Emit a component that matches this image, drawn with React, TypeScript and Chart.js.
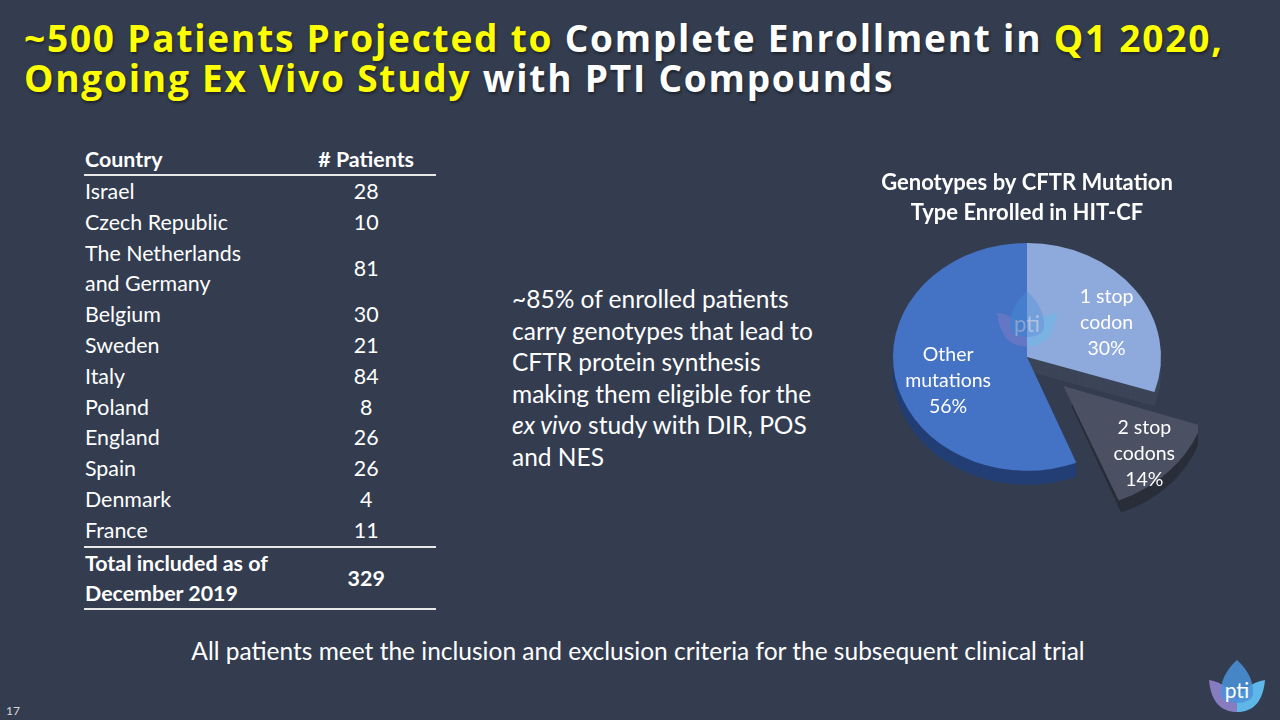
import React, { useEffect, useRef } from "react";
import { Chart, registerables } from "chart.js";

Chart.register(...registerables);

// ---- data ----
const countries = [
  "Israel",
  "Czech Republic",
  "The Netherlands\nand Germany",
  "Belgium",
  "Sweden",
  "Italy",
  "Poland",
  "England",
  "Spain",
  "Denmark",
  "France",
];
const patients = [28, 10, 81, 30, 21, 84, 8, 26, 26, 4, 11];
const totalLabel = "Total included as of\nDecember 2019";
const totalPatients = 329;

const pieTitle = ["Genotypes by CFTR Mutation", "Type Enrolled in HIT-CF"];
const pieLabels = [["1 stop", "codon"], ["2 stop", "codons"], ["Other", "mutations"]];
const pieValues = [30, 14, 56];
const pieColors = ["#8EA9DB", "#4B5163", "#4472C4"];
const pieSideColors = ["#3C4558", "#2A2F3A", "#233F75"];
const pieOffsets = [0, 200, 0];

const FONT = "Lato, 'Open Sans', sans-serif";
const TITLE_FONT = "'Open Sans', Lato, sans-serif";
const BG = "#333D4F";
const SQUASH = 0.85;
const DEPTH = 14;

function arcGeom(arc: any) {
  const p = arc.getProps(["x", "y", "startAngle", "endAngle", "outerRadius", "circumference"]);
  const offset = (arc.options.offset || 0) / 4;
  const half = (p.startAngle + p.endAngle) / 2;
  const fix = 1 - Math.sin(Math.min(Math.PI, p.circumference || 0));
  const t = offset * (1 + fix);
  return { ...p, half, ox: Math.cos(half) * t, oy: Math.sin(half) * t };
}

const pie3d = {
  id: "pie3d",
  beforeDatasetsDraw(chart: any) {
    const ctx = chart.ctx;
    const arcs = chart.getDatasetMeta(0).data;
    if (!arcs.length) return;
    const cx = arcs[0].x;
    const cy = arcs[0].y;
    ctx.save();
    ctx.translate(cx, cy);
    ctx.scale(1, SQUASH);
    ctx.translate(-cx, -cy);
    for (let d = DEPTH; d >= 1; d--) {
      arcs.forEach((arc: any, i: number) => {
        const g = arcGeom(arc);
        const x = g.x + g.ox;
        const y = g.y + g.oy + d / SQUASH;
        ctx.beginPath();
        ctx.moveTo(x, y);
        ctx.arc(x, y, g.outerRadius, g.startAngle, g.endAngle);
        ctx.closePath();
        ctx.fillStyle = pieSideColors[i];
        ctx.fill();
      });
    }
  },
  afterDatasetsDraw(chart: any) {
    const ctx = chart.ctx;
    ctx.restore();
    const arcs = chart.getDatasetMeta(0).data;
    const labels = chart.data.labels;
    const values = chart.data.datasets[0].data;
    ctx.save();
    ctx.fillStyle = "#FFFFFF";
    ctx.font = `19.5px ${FONT}`;
    ctx.textAlign = "center";
    ctx.textBaseline = "middle";
    arcs.forEach((arc: any, i: number) => {
      const g = arcGeom(arc);
      const r = g.outerRadius * 0.66;
      const x = g.x + g.ox + Math.cos(g.half) * r + 8;
      const y = g.y + (g.oy + Math.sin(g.half) * r) * SQUASH + 10;
      const lines = [...labels[i], `${values[i]}%`];
      const lh = 26;
      lines.forEach((ln: string, k: number) => {
        ctx.fillText(ln, x, y + (k - (lines.length - 1) / 2) * lh);
      });
    });
    ctx.restore();
  },
};

function PieChart() {
  const ref = useRef<HTMLCanvasElement | null>(null);
  useEffect(() => {
    if (!ref.current) return;
    const chart = new Chart(ref.current, {
      type: "pie",
      data: {
        labels: pieLabels as any,
        datasets: [
          {
            data: pieValues,
            backgroundColor: pieColors,
            borderWidth: 0,
            offset: pieOffsets,
            clip: false as any,
          } as any,
        ],
      },
      options: {
        responsive: false,
        animation: false,
        events: [],
        radius: 134,
        layout: { padding: { left: 0, right: 2, top: 0, bottom: 74 } },
        plugins: {
          legend: { display: false },
          tooltip: { enabled: false },
          title: {
            display: true,
            text: pieTitle,
            color: "#FFFFFF",
            font: { family: FONT, size: 22, weight: "bold", lineHeight: 1.36 },
            padding: { top: 8, bottom: 0 },
          },
        },
      } as any,
      plugins: [pie3d],
    });
    return () => chart.destroy();
  }, []);
  return (
    <canvas
      ref={ref}
      width={340}
      height={400}
      style={{ position: "absolute", left: 858, top: 160, width: 340, height: 400 }}
    />
  );
}

function Lotus({ left, top, size, opacity, textColor }: any) {
  return (
    <svg
      width={size}
      height={size * 0.95}
      viewBox="0 0 60 57"
      style={{ position: "absolute", left, top, opacity }}
    >
      <path d="M30 54 C14 54 4 44 2 22 C14 24 26 32 30 42 Z" fill="#8C7FC6" opacity={0.95} />
      <path d="M30 54 C46 54 56 44 58 22 C46 24 34 32 30 42 Z" fill="#62BDF0" opacity={0.95} />
      <path d="M30 2 C41 12 47 24 46 36 C45 48 15 48 14 36 C13 24 19 12 30 2 Z" fill="#4A93DA" opacity={0.85} />
      <text x="30" y="40" textAnchor="middle" fontFamily={FONT} fontSize="21" fill={textColor}>
        pti
      </text>
    </svg>
  );
}

export default function App() {
  const rowH = 30.8;
  const yellow = "#FFFF00";
  const cell1 = { width: 212, paddingLeft: 1 };
  const cell2 = { width: 140, textAlign: "center" as const };
  const titleLine = {
    position: "absolute" as const,
    left: 24,
    fontFamily: TITLE_FONT,
    fontSize: 37,
    fontWeight: 700,
    letterSpacing: "1.8px",
    lineHeight: "40px",
    height: 40,
    whiteSpace: "nowrap" as const,
    textShadow: "1px 2px 3px rgba(0,0,0,0.45)",
  };
  const seg = { display: "inline-block", height: 40, lineHeight: "40px", verticalAlign: "top", whiteSpace: "pre" as const };
  return (
    <div
      style={{
        position: "fixed",
        left: 0,
        top: 0,
        width: 1280,
        height: 720,
        background: BG,
        overflow: "hidden",
        fontFamily: FONT,
        color: "#FFFFFF",
      }}
    >
      {/* slide title */}
      <div style={{ ...titleLine, top: 18 }}>
        <span style={{ ...seg, color: yellow }}>~500 Patients Projected to </span>
        <span style={seg}>Complete Enrollment in </span>
        <span style={{ ...seg, color: yellow }}>Q1 2020,</span>
      </div>
      <div style={{ ...titleLine, top: 58 }}>
        <span style={{ ...seg, color: yellow }}>Ongoing Ex Vivo Study</span>
        <span style={seg}> with PTI Compounds</span>
      </div>

      {/* table */}
      <div style={{ position: "absolute", left: 84, top: 145, width: 352, fontSize: 21.4 }}>
        <div style={{ display: "flex", height: 29, lineHeight: "29px", fontWeight: 700 }}>
          <div style={cell1}>Country</div>
          <div style={cell2}># Patients</div>
        </div>
        <div style={{ height: 2, background: "#E8E8E8" }} />
        {countries.map((c, i) => {
          const lines = c.split("\n");
          return (
            <div key={c} style={{ display: "flex", alignItems: "center", lineHeight: `${rowH}px` }}>
              <div style={cell1}>
                {lines.map((l) => (
                  <div key={l}>{l}</div>
                ))}
              </div>
              <div style={cell2}>{patients[i]}</div>
            </div>
          );
        })}
        <div style={{ height: 2, background: "#E8E8E8" }} />
        <div style={{ display: "flex", alignItems: "center", lineHeight: "30px", fontWeight: 700 }}>
          <div style={cell1}>
            {totalLabel.split("\n").map((l) => (
              <div key={l}>{l}</div>
            ))}
          </div>
          <div style={cell2}>{totalPatients}</div>
        </div>
        <div style={{ height: 2, background: "#E8E8E8" }} />
      </div>

      {/* middle paragraph */}
      <div
        style={{
          position: "absolute",
          left: 512,
          top: 283,
          fontSize: 24.5,
          lineHeight: "31.5px",
          whiteSpace: "nowrap",
        }}
      >
        <div>~85% of enrolled patients</div>
        <div>carry genotypes that lead to</div>
        <div>CFTR protein synthesis</div>
        <div>making them eligible for the</div>
        <div>
          <i>ex vivo</i> study with DIR, POS
        </div>
        <div>and NES</div>
      </div>

      <PieChart />
      <Lotus left={995} top={289} size={64} opacity={0.45} textColor="#D8DCE6" />

      {/* bottom note */}
      <div
        style={{
          position: "absolute",
          left: 0,
          width: 1276,
          top: 636,
          textAlign: "center",
          fontSize: 24.5,
          lineHeight: "30px",
        }}
      >
        All patients meet the inclusion and exclusion criteria for the subsequent clinical trial
      </div>

      <Lotus left={1207} top={658} size={60} opacity={1} textColor="#FFFFFF" />

      <div style={{ position: "absolute", left: 6, top: 703, fontSize: 12, color: "#D9D9D9" }}>17</div>
    </div>
  );
}
